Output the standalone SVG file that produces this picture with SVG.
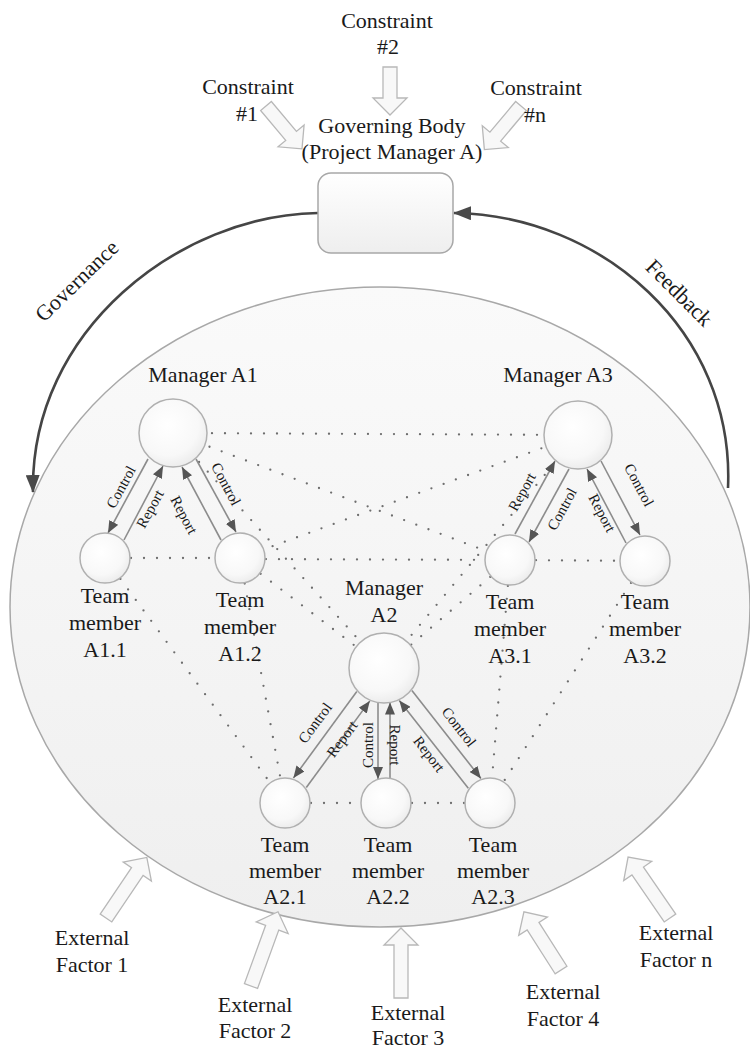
<svg xmlns="http://www.w3.org/2000/svg" width="750" height="1050" viewBox="0 0 750 1050">
  <defs>
    <linearGradient id="fieldFill" x1="0" y1="0" x2="0" y2="1">
      <stop offset="0" stop-color="#fafafa"/>
      <stop offset="1" stop-color="#efefef"/>
    </linearGradient>
    <radialGradient id="nodeFill" cx="0.42" cy="0.38" r="0.65">
      <stop offset="0" stop-color="#ffffff"/>
      <stop offset="0.7" stop-color="#f8f8f8"/>
      <stop offset="1" stop-color="#ebebeb"/>
    </radialGradient>
    <linearGradient id="boxFill" x1="0" y1="0" x2="0" y2="1">
      <stop offset="0" stop-color="#ffffff"/>
      <stop offset="1" stop-color="#eeeeee"/>
    </linearGradient>
    <marker id="tip" markerUnits="userSpaceOnUse" viewBox="0 0 12 10" markerWidth="12" markerHeight="10" refX="12" refY="5" orient="auto">
      <path d="M0,0 L12,5 L0,10 Z" fill="#555"/>
    </marker>
    <marker id="bigTip" markerUnits="userSpaceOnUse" viewBox="0 0 18 14" markerWidth="18" markerHeight="14" refX="17" refY="7" orient="auto">
      <path d="M0,0 L18,7 L0,14 Z" fill="#4a4a4a"/>
    </marker>
  </defs>
  <style>
    text { font-family: "Liberation Serif", "Times New Roman", serif; fill: #1a1a1a; }
    .lbl { font-size: 22px; text-anchor: middle; }
    .small { font-size: 15px; text-anchor: middle; }
    .node { fill: url(#nodeFill); stroke: #b0b0b0; stroke-width: 1.5; }
    .dot { stroke: #6e6e6e; stroke-width: 2.3; stroke-linecap: round; stroke-dasharray: 0 13; fill: none; }
    .flow { stroke: #8c8c8c; stroke-width: 1.6; marker-end: url(#tip); }
    .loop { fill: none; stroke: #454545; stroke-width: 2.6; marker-end: url(#bigTip); }
    .block { fill: #f8f8f8; stroke: #b8b8b8; stroke-width: 1.3; }
  </style>

  <rect width="750" height="1050" fill="#ffffff"/>

  <!-- project environment -->
  <g id="project-field">
    <ellipse cx="380" cy="607" rx="370" ry="320" fill="url(#fieldFill)" stroke="#a8a8a8" stroke-width="1.5"/>
  </g>

  <!-- connectors -->
  <g id="connectors">
    <!-- informal dotted links -->
    <g id="dotted-links">
      <line class="dot" x1="173" y1="433" x2="578" y2="435"/>
      <line class="dot" x1="173" y1="433" x2="510" y2="560"/>
      <line class="dot" x1="578" y1="435" x2="240" y2="558"/>
      <line class="dot" x1="173" y1="433" x2="384" y2="668"/>
      <line class="dot" x1="240" y1="558" x2="384" y2="668"/>
      <line class="dot" x1="578" y1="435" x2="384" y2="668"/>
      <line class="dot" x1="510" y1="560" x2="384" y2="668"/>
      <line class="dot" x1="105" y1="558" x2="240" y2="558"/>
      <line class="dot" x1="240" y1="559" x2="510" y2="560"/>
      <line class="dot" x1="510" y1="560" x2="645" y2="561"/>
      <line class="dot" x1="105" y1="558" x2="285" y2="803"/>
      <line class="dot" x1="240" y1="558" x2="285" y2="803"/>
      <line class="dot" x1="510" y1="560" x2="490" y2="803"/>
      <line class="dot" x1="645" y1="561" x2="490" y2="803"/>
      <line class="dot" x1="285" y1="803" x2="386" y2="803"/>
      <line class="dot" x1="386" y1="803" x2="490" y2="803"/>
    </g>

    <!-- control / report flows, manager A1 -->
    <g id="flows-a1">
      <line class="flow" x1="148" y1="459" x2="108" y2="533"/>
      <line class="flow" x1="124" y1="540" x2="163" y2="466"/>
      <line class="flow" x1="221" y1="540" x2="182" y2="467"/>
      <line class="flow" x1="196" y1="459" x2="236" y2="532"/>
      <text class="small" transform="translate(121,487) rotate(-61.4)" y="5">Control</text>
      <text class="small" transform="translate(150,509) rotate(-61.4)" y="5">Report</text>
      <text class="small" transform="translate(184,515) rotate(62)" y="5">Report</text>
      <text class="small" transform="translate(226,484) rotate(62)" y="5">Control</text>
    </g>

    <!-- control / report flows, manager A3 -->
    <g id="flows-a3">
      <line class="flow" x1="515" y1="534" x2="555" y2="461"/>
      <line class="flow" x1="569" y1="469" x2="529" y2="542"/>
      <line class="flow" x1="626" y1="543" x2="587" y2="469"/>
      <line class="flow" x1="601" y1="461" x2="640" y2="535"/>
      <text class="small" transform="translate(522,492) rotate(-61.4)" y="5">Report</text>
      <text class="small" transform="translate(562,509) rotate(-61.4)" y="5">Control</text>
      <text class="small" transform="translate(602,513) rotate(62)" y="5">Report</text>
      <text class="small" transform="translate(639,485) rotate(62)" y="5">Control</text>
    </g>

    <!-- control / report flows, manager A2 -->
    <g id="flows-a2">
      <line class="flow" x1="356.8" y1="691.5" x2="293.4" y2="778.1"/>
      <line class="flow" x1="306.3" y1="787.5" x2="369.8" y2="700.9"/>
      <line class="flow" x1="378" y1="702.5" x2="378" y2="779"/>
      <line class="flow" x1="390" y1="778.5" x2="390" y2="702.5"/>
      <line class="flow" x1="468.3" y1="788.2" x2="399.3" y2="700.4"/>
      <line class="flow" x1="411.9" y1="690.6" x2="480.9" y2="778.4"/>
      <text class="small" transform="translate(315,723) rotate(-53.7)" y="5">Control</text>
      <text class="small" transform="translate(342,739) rotate(-53.7)" y="5">Report</text>
      <text class="small" transform="translate(368,745) rotate(-90)" y="5">Control</text>
      <text class="small" transform="translate(395,745) rotate(90)" y="5">Report</text>
      <text class="small" transform="translate(429,754) rotate(52)" y="5">Report</text>
      <text class="small" transform="translate(459,727) rotate(52)" y="5">Control</text>
    </g>

    <!-- governance / feedback loop -->
    <g id="loop">
      <path class="loop" d="M318,213 C180,215 30,330 33,492"/>
      <path class="loop" d="M728,488 C735,330 600,215 454,213"/>
      <text class="lbl" transform="translate(77,281) rotate(-44)" y="7">Governance</text>
      <text class="lbl" transform="translate(679,293) rotate(45)" y="7">Feedback</text>
    </g>
  </g>

  <!-- governing body -->
  <g id="governing-body">
    <rect x="318" y="173" width="135" height="80" rx="13" fill="url(#boxFill)" stroke="#a8a8a8" stroke-width="1.5"/>
    <text class="lbl" x="392" y="133">Governing Body</text>
    <text class="lbl" x="392" y="159">(Project Manager A)</text>
  </g>

  <!-- constraints -->
  <g id="constraint-1">
    <path class="block" transform="translate(266,106) rotate(50)" d="M0,-7 H39 V-17 L56,0 L39,17 V7 H0 Z"/>
    <text class="lbl" x="248" y="94">Constraint</text>
    <text class="lbl" x="247" y="121">#1</text>
  </g>
  <g id="constraint-2">
    <path class="block" transform="translate(390,67) rotate(90)" d="M0,-7 H31 V-17 L48,0 L31,17 V7 H0 Z"/>
    <text class="lbl" x="387" y="28">Constraint</text>
    <text class="lbl" x="388" y="54">#2</text>
  </g>
  <g id="constraint-n">
    <path class="block" transform="translate(521,106) rotate(130)" d="M0,-7 H40 V-17 L57,0 L40,17 V7 H0 Z"/>
    <text class="lbl" x="536" y="95">Constraint</text>
    <text class="lbl" x="535" y="122">#n</text>
  </g>

  <!-- managers -->
  <g id="manager-a1">
    <circle class="node" cx="173" cy="433" r="34"/>
    <text class="lbl" x="203" y="382">Manager A1</text>
  </g>
  <g id="manager-a3">
    <circle class="node" cx="578" cy="435" r="34"/>
    <text class="lbl" x="558" y="382">Manager A3</text>
  </g>
  <g id="manager-a2">
    <circle class="node" cx="384" cy="668" r="35"/>
    <text class="lbl" x="384" y="595">Manager</text>
    <text class="lbl" x="384" y="622">A2</text>
  </g>

  <!-- team members -->
  <g id="member-a1-1">
    <circle class="node" cx="105" cy="558" r="25"/>
    <text class="lbl" x="105" y="603">Team</text>
    <text class="lbl" x="105" y="630">member</text>
    <text class="lbl" x="105" y="657">A1.1</text>
  </g>
  <g id="member-a1-2">
    <circle class="node" cx="240" cy="558" r="25"/>
    <text class="lbl" x="240" y="607">Team</text>
    <text class="lbl" x="240" y="634">member</text>
    <text class="lbl" x="240" y="661">A1.2</text>
  </g>
  <g id="member-a3-1">
    <circle class="node" cx="510" cy="560" r="25"/>
    <text class="lbl" x="510" y="609">Team</text>
    <text class="lbl" x="510" y="636">member</text>
    <text class="lbl" x="510" y="663">A3.1</text>
  </g>
  <g id="member-a3-2">
    <circle class="node" cx="645" cy="561" r="25"/>
    <text class="lbl" x="645" y="609">Team</text>
    <text class="lbl" x="645" y="636">member</text>
    <text class="lbl" x="645" y="663">A3.2</text>
  </g>
  <g id="member-a2-1">
    <circle class="node" cx="285" cy="803" r="25"/>
    <text class="lbl" x="285" y="852">Team</text>
    <text class="lbl" x="285" y="878">member</text>
    <text class="lbl" x="285" y="904">A2.1</text>
  </g>
  <g id="member-a2-2">
    <circle class="node" cx="386" cy="803" r="25"/>
    <text class="lbl" x="388" y="852">Team</text>
    <text class="lbl" x="388" y="878">member</text>
    <text class="lbl" x="388" y="904">A2.2</text>
  </g>
  <g id="member-a2-3">
    <circle class="node" cx="490" cy="803" r="25"/>
    <text class="lbl" x="493" y="852">Team</text>
    <text class="lbl" x="493" y="878">member</text>
    <text class="lbl" x="493" y="904">A2.3</text>
  </g>

  <!-- external factors -->
  <g id="factor-1">
    <path class="block" transform="translate(106,918) rotate(-56)" d="M0,-7 H56 V-17 L73,0 L56,17 V7 H0 Z"/>
    <text class="lbl" x="92" y="945">External</text>
    <text class="lbl" x="92" y="972">Factor 1</text>
  </g>
  <g id="factor-2">
    <path class="block" transform="translate(251,986) rotate(-70)" d="M0,-7 H62 V-17 L79,0 L62,17 V7 H0 Z"/>
    <text class="lbl" x="255" y="1012">External</text>
    <text class="lbl" x="255" y="1038">Factor 2</text>
  </g>
  <g id="factor-3">
    <path class="block" transform="translate(401,998) rotate(-90)" d="M0,-7 H53 V-17 L70,0 L53,17 V7 H0 Z"/>
    <text class="lbl" x="408" y="1020">External</text>
    <text class="lbl" x="408" y="1045">Factor 3</text>
  </g>
  <g id="factor-4">
    <path class="block" transform="translate(561,970) rotate(-122.5)" d="M0,-7 H52 V-17 L69,0 L52,17 V7 H0 Z"/>
    <text class="lbl" x="563" y="999">External</text>
    <text class="lbl" x="563" y="1026">Factor 4</text>
  </g>
  <g id="factor-n">
    <path class="block" transform="translate(670,918) rotate(-124.5)" d="M0,-7 H57 V-17 L74,0 L57,17 V7 H0 Z"/>
    <text class="lbl" x="676" y="940">External</text>
    <text class="lbl" x="676" y="967">Factor n</text>
  </g>
</svg>
